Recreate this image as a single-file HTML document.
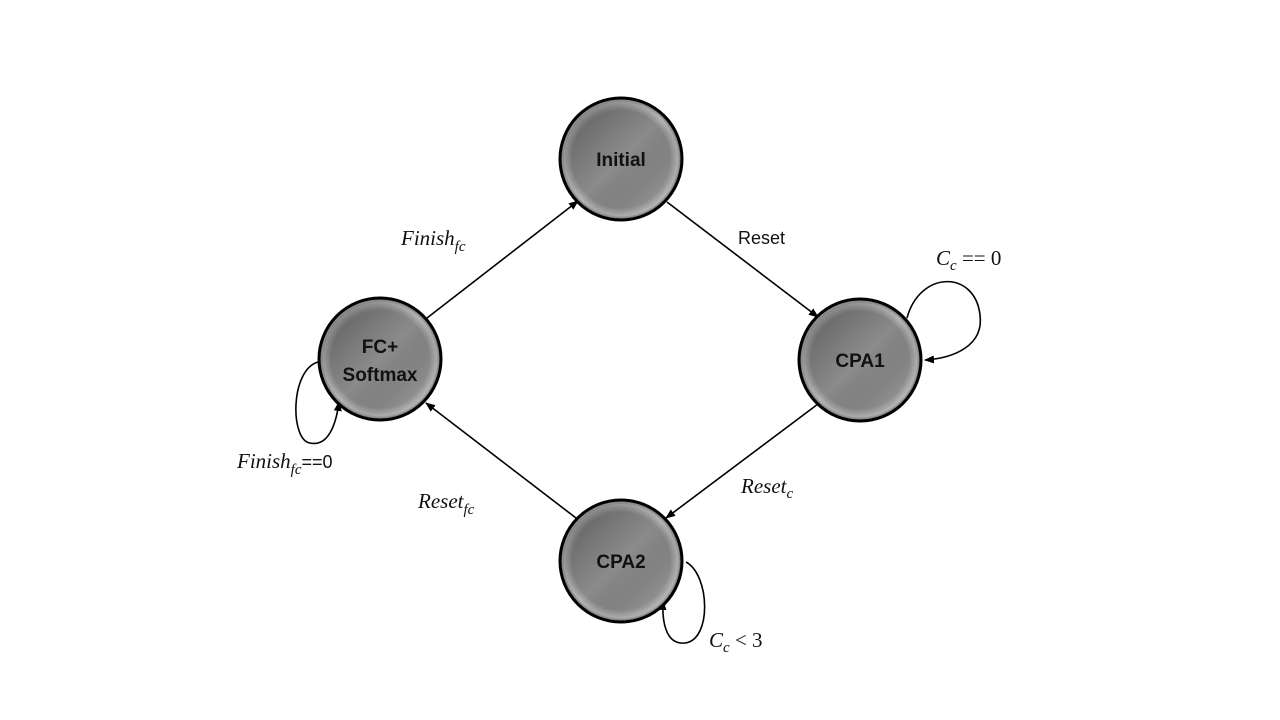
<!DOCTYPE html>
<html><head><meta charset="utf-8"><style>
body{margin:0;background:#fff;}
svg{display:block;}
.n{font-family:"Liberation Sans",sans-serif;font-weight:bold;font-size:19px;fill:#111;text-anchor:middle;}
.l{font-family:"Liberation Serif",serif;font-style:italic;font-size:21px;fill:#111;}
.s{font-family:"Liberation Sans",sans-serif;font-size:18px;fill:#111;}
</style></head><body>
<svg width="1280" height="720" viewBox="0 0 1280 720">
<defs>
<radialGradient id="g" cx="0.5" cy="0.5" r="0.5">
<stop offset="0" stop-color="#8c8c8c"/>
<stop offset="0.8" stop-color="#8a8a8a"/>
<stop offset="0.93" stop-color="#b8b8b8"/>
<stop offset="1" stop-color="#555"/>
</radialGradient>
<linearGradient id="h" x1="0" y1="0" x2="1" y2="1">
<stop offset="0" stop-color="#000" stop-opacity="0.35"/>
<stop offset="0.5" stop-color="#000" stop-opacity="0"/>
<stop offset="1" stop-color="#fff" stop-opacity="0.45"/>
</linearGradient>
<marker id="a" markerWidth="10" markerHeight="8" refX="9" refY="4" orient="auto" markerUnits="userSpaceOnUse">
<path d="M0,0 L10,4 L0,8 z" fill="#000"/></marker>
</defs>
<g stroke="#000" stroke-width="1.6" fill="none">
<line x1="427" y1="318" x2="578" y2="201" marker-end="url(#a)"/>
<line x1="667" y1="202" x2="818" y2="317" marker-end="url(#a)"/>
<line x1="818" y1="404" x2="666" y2="518" marker-end="url(#a)"/>
<line x1="576" y1="518" x2="426" y2="403" marker-end="url(#a)"/>
<path d="M907,318 C920,270 975,270 980,315 C984,345 955,358 925,360" marker-end="url(#a)"/>
<path d="M318,362 C290,370 290,440 310,443 C328,447 336,425 339,402" marker-end="url(#a)"/>
<path d="M686,562 C710,575 712,640 685,643 C665,645 662,620 663,601" marker-end="url(#a)"/>
</g>
<g>
<g transform="translate(621,159)"><circle r="61" fill="url(#g)"/><circle r="58" fill="url(#h)"/><circle r="61" fill="none" stroke="#000" stroke-width="3"/><text class="n" y="7">Initial</text></g>
<g transform="translate(860,360)"><circle r="61" fill="url(#g)"/><circle r="58" fill="url(#h)"/><circle r="61" fill="none" stroke="#000" stroke-width="3"/><text class="n" y="7">CPA1</text></g>
<g transform="translate(380,359)"><circle r="61" fill="url(#g)"/><circle r="58" fill="url(#h)"/><circle r="61" fill="none" stroke="#000" stroke-width="3"/><text class="n" y="-6">FC+</text><text class="n" y="22">Softmax</text></g>
<g transform="translate(621,561)"><circle r="61" fill="url(#g)"/><circle r="58" fill="url(#h)"/><circle r="61" fill="none" stroke="#000" stroke-width="3"/><text class="n" y="7">CPA2</text></g>
</g>
<text class="l" x="401" y="245">Finish<tspan font-size="15" dy="6">fc</tspan></text>
<text class="s" x="738" y="244">Reset</text>
<text class="l" x="936" y="265">C<tspan font-size="15" dy="5">c</tspan><tspan dy="-5" font-style="normal"> == 0</tspan></text>
<text class="l" x="741" y="493">Reset<tspan font-size="15" dy="5">c</tspan></text>
<text class="l" x="418" y="508">Reset<tspan font-size="15" dy="6">fc</tspan></text>
<text class="l" x="237" y="468">Finish<tspan font-size="15" dy="6">fc</tspan><tspan dy="-6" font-style="normal" font-family="Liberation Sans" font-size="18">==0</tspan></text>
<text class="l" x="709" y="647">C<tspan font-size="15" dy="5">c</tspan><tspan dy="-5" font-style="normal"> &lt; 3</tspan></text>
</svg>
</body></html>
